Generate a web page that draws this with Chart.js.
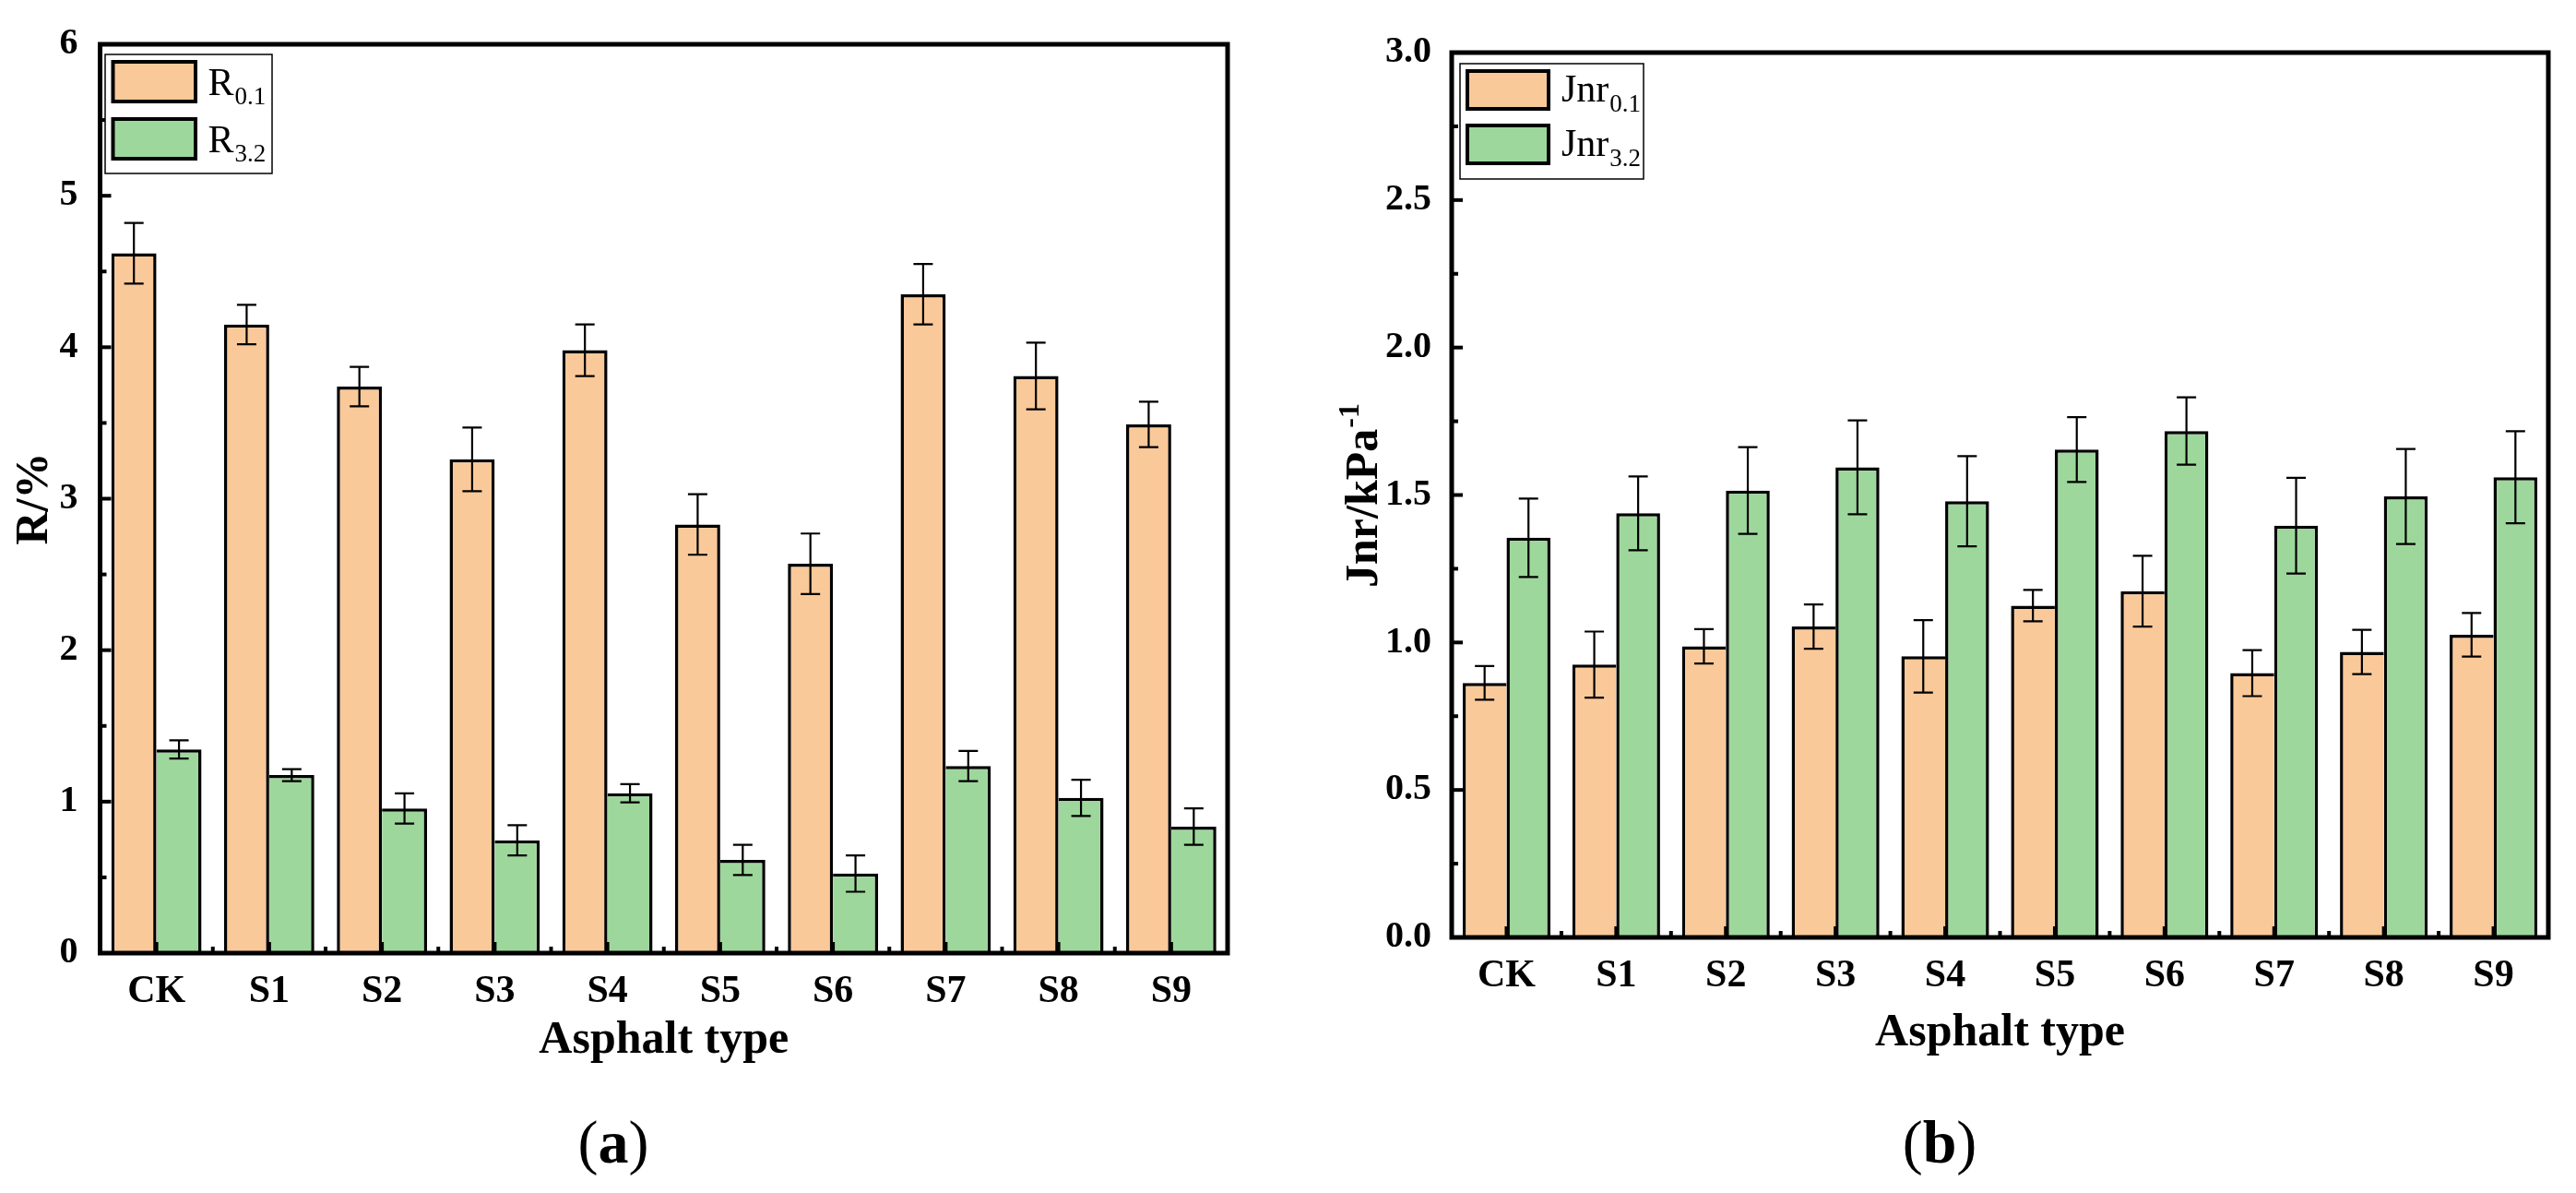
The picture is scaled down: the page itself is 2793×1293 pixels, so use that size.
<!DOCTYPE html>
<html><head><meta charset="utf-8">
<script src="https://cdn.jsdelivr.net/npm/chart.js@4.4.1/dist/chart.umd.min.js"></script>
<style>
html,body{margin:0;padding:0;background:#fff;width:2793px;height:1293px;overflow:hidden;}
canvas{position:absolute;top:0;}
#ca{left:0;} #cb{left:1400px;}
</style></head><body>
<canvas id="ca" width="1400" height="1293" style="width:1400px;height:1293px"></canvas>
<canvas id="cb" width="1393" height="1293" style="width:1393px;height:1293px"></canvas>
<script>
// ---------- data ----------
const categories = ['CK','S1','S2','S3','S4','S5','S6','S7','S8','S9'];
const R01    = [4.62, 4.15, 3.74, 3.26, 3.98, 2.83, 2.57, 4.35, 3.81, 3.49];
const R01Err = [0.20, 0.13, 0.13, 0.21, 0.17, 0.20, 0.20, 0.20, 0.22, 0.15];
const R32    = [1.345, 1.175, 0.955, 0.745, 1.055, 0.615, 0.525, 1.235, 1.025, 0.835];
const R32Err = [0.06, 0.04, 0.10, 0.10, 0.06, 0.10, 0.12, 0.10, 0.12, 0.12];
const J01    = [0.863, 0.925, 0.987, 1.054, 0.953, 1.125, 1.174, 0.896, 0.968, 1.026];
const J01Err = [0.057, 0.112, 0.058, 0.075, 0.123, 0.053, 0.120, 0.078, 0.075, 0.074];
const J32    = [1.355, 1.438, 1.515, 1.594, 1.479, 1.654, 1.717, 1.396, 1.495, 1.560];
const J32Err = [0.133, 0.125, 0.147, 0.159, 0.153, 0.110, 0.114, 0.162, 0.161, 0.156];
const seriesBaseA = 'R';
const seriesBaseB = 'Jnr';
const seriesSubs = ['0.1', '3.2'];
const xTitle = 'Asphalt type';
const yTitleA = 'R/%';
const yTitleBMain = 'Jnr/kPa';
const yTitleBSup = '-1';
const panelLabels = ['a', 'b'];

const ORANGE = '#FAC99A', GREEN = '#9ED79C';
const FONT = '"Liberation Serif", "Times New Roman", serif';

// ---------- decoration plugin ----------
const deco = {
  id: 'deco',
  afterDatasetsDraw(chart, args, o) {
    const ctx = chart.ctx, ca = chart.chartArea, xs = chart.scales.x, ys = chart.scales.y;
    ctx.save();
    ctx.strokeStyle = '#000'; ctx.lineCap = 'butt';
    // error bars
    ctx.lineWidth = 2.2;
    chart.data.datasets.forEach((ds, di) => {
      const meta = chart.getDatasetMeta(di);
      meta.data.forEach((el, i) => {
        const v = ds.data[i], e = ds.errors[i];
        const y1 = ys.getPixelForValue(v + e), y2 = ys.getPixelForValue(v - e), x = el.x, c = o.cap;
        ctx.beginPath();
        ctx.moveTo(x, y1); ctx.lineTo(x, y2);
        ctx.moveTo(x - c, y1); ctx.lineTo(x + c, y1);
        ctx.moveTo(x - c, y2); ctx.lineTo(x + c, y2);
        ctx.stroke();
      });
    });
    // y ticks (inward)
    ctx.lineWidth = 4;
    const n = Math.round((ys.max - ys.min) / o.yMinor);
    for (let k = 0; k <= n; k++) {
      const p = ys.getPixelForValue(ys.min + k * o.yMinor);
      const len = (k % 2 === 0) ? 12 : 7;
      ctx.beginPath(); ctx.moveTo(ca.left, p); ctx.lineTo(ca.left + len, p); ctx.stroke();
    }
    // x ticks (inward)
    const nc = chart.data.labels.length;
    for (let i = 0; i < nc; i++) {
      const p = xs.getPixelForValue(i);
      ctx.beginPath(); ctx.moveTo(p, ca.bottom); ctx.lineTo(p, ca.bottom - 12); ctx.stroke();
      if (i > 0) {
        const b = (xs.getPixelForValue(i - 1) + p) / 2;
        ctx.beginPath(); ctx.moveTo(b, ca.bottom); ctx.lineTo(b, ca.bottom - 7); ctx.stroke();
      }
    }
    // frame
    ctx.lineWidth = 5;
    ctx.strokeRect(ca.left, ca.top, ca.right - ca.left, ca.bottom - ca.top);
    // legend
    const L = o.legend;
    ctx.fillStyle = '#fff'; ctx.fillRect(L.box[0], L.box[1], L.box[2], L.box[3]);
    ctx.lineWidth = 1.5; ctx.strokeRect(L.box[0], L.box[1], L.box[2], L.box[3]);
    chart.data.datasets.forEach((ds, i) => {
      const y = L.sw.y + i * L.sw.dy;
      ctx.fillStyle = ds.backgroundColor;
      ctx.fillRect(L.sw.x + 2, y + 2, L.sw.w - 4, L.sw.h - 4);
      ctx.lineWidth = 4; ctx.strokeStyle = '#000';
      ctx.strokeRect(L.sw.x + 2, y + 2, L.sw.w - 4, L.sw.h - 4);
      ctx.fillStyle = '#000'; ctx.textAlign = 'left'; ctx.textBaseline = 'alphabetic';
      ctx.font = `${L.size}px ${FONT}`;
      const by = L.base + i * L.sw.dy;
      ctx.fillText(ds.legendBase, L.tx, by);
      const w = ctx.measureText(ds.legendBase).width;
      ctx.font = `${L.sub}px ${FONT}`;
      ctx.fillText(ds.legendSub, L.tx + w + 1, by + L.subDy);
    });
    // rich y title (superscript)
    if (o.yRich) {
      const T = o.yRich;
      ctx.save();
      ctx.translate(T.x, T.y); ctx.rotate(-Math.PI / 2);
      ctx.fillStyle = '#000'; ctx.textAlign = 'left'; ctx.textBaseline = 'alphabetic';
      ctx.font = `bold ${T.size}px ${FONT}`;
      const wm = ctx.measureText(T.main).width;
      ctx.font = `bold ${T.supSize}px ${FONT}`;
      const ws = ctx.measureText(T.sup).width;
      const x0 = -(wm + ws) / 2;
      ctx.font = `bold ${T.size}px ${FONT}`;
      ctx.fillText(T.main, x0, 0);
      ctx.font = `bold ${T.supSize}px ${FONT}`;
      ctx.fillText(T.sup, x0 + wm + 1, -T.supRaise);
      ctx.restore();
    }
    // panel label
    const P = o.panel;
    ctx.fillStyle = '#000'; ctx.textAlign = 'left'; ctx.textBaseline = 'alphabetic';
    const reg = `${P.size}px ${FONT}`, bold = `bold ${P.size}px ${FONT}`;
    ctx.font = reg; const wp = ctx.measureText('(').width, wq = ctx.measureText(')').width;
    ctx.font = bold; const wt = ctx.measureText(P.text).width;
    let px = P.cx - (wp + wt + wq) / 2;
    ctx.font = reg; ctx.fillText('(', px, P.base); px += wp;
    ctx.font = bold; ctx.fillText(P.text, px, P.base); px += wt;
    ctx.font = reg; ctx.fillText(')', px, P.base);
    ctx.restore();
  }
};

function makeChart(id, cfg) {
  return new Chart(document.getElementById(id), {
    type: 'bar',
    data: {
      labels: categories,
      datasets: [
        { label: cfg.base + seriesSubs[0], legendBase: cfg.base, legendSub: seriesSubs[0],
          data: cfg.d1, errors: cfg.e1, backgroundColor: ORANGE, borderColor: '#000',
          borderWidth: cfg.bw1, borderSkipped: 'start',
          categoryPercentage: 0.8, barPercentage: 1.0 },
        { label: cfg.base + seriesSubs[1], legendBase: cfg.base, legendSub: seriesSubs[1],
          data: cfg.d2, errors: cfg.e2, backgroundColor: GREEN, borderColor: '#000',
          borderWidth: cfg.bw2, borderSkipped: 'start',
          categoryPercentage: 0.8, barPercentage: 1.0 }
      ]
    },
    options: {
      responsive: false, animation: false, devicePixelRatio: 1,
      layout: { padding: cfg.pad },
      plugins: { legend: { display: false }, tooltip: { enabled: false }, deco: cfg.deco },
      scales: {
        x: {
          grid: { display: false }, border: { display: false },
          ticks: { color: '#000', padding: 9, autoSkip: false, maxRotation: 0,
                   font: { family: FONT, size: 42, weight: 'bold' } },
          title: { display: true, text: xTitle, color: '#000', padding: { top: 0, bottom: 0 },
                   font: { family: FONT, size: 50, weight: 'bold', lineHeight: 1.2 } },
          afterFit: s => { s.height = cfg.xH; }
        },
        y: {
          min: 0, max: cfg.ymax,
          grid: { display: false }, border: { display: false },
          ticks: { color: '#000', stepSize: cfg.step, padding: cfg.yPad,
                   font: { family: FONT, size: 40, weight: 'bold' },
                   callback: v => cfg.fmt(v) },
          title: cfg.yTitle,
          afterFit: s => { s.width = cfg.yW; }
        }
      }
    },
    plugins: [deco]
  });
}

makeChart('ca', {
  base: seriesBaseA, d1: R01, e1: R01Err, d2: R32, e2: R32Err,
  bw1: { left: 3.5, top: 3.5, right: 3.5, bottom: 0 },
  bw2: { left: 0, top: 3.5, right: 3.5, bottom: 0 },
  pad: { left: 0, top: 48, right: 1400 - 1331, bottom: 135 },
  xH: 125, yW: 108.5, ymax: 6, step: 1, yPad: 16,
  fmt: v => String(v),
  yTitle: { display: true, text: yTitleA, color: '#000', padding: { top: 8, bottom: 0 },
            font: { family: FONT, size: 50, weight: 'bold', lineHeight: 1.2 } },
  deco: {
    cap: 10.5, yMinor: 0.5,
    legend: { box: [114, 59, 181, 129], sw: { x: 120.5, y: 65, w: 93.5, h: 47, dy: 62 },
              tx: 225.5, base: 103, size: 42, sub: 27, subDy: 10 },
    panel: { text: panelLabels[0], cx: 665, base: 1260, size: 66 }
  }
});

makeChart('cb', {
  base: seriesBaseB, d1: J01, e1: J01Err, d2: J32, e2: J32Err,
  bw1: { left: 3.5, top: 3.5, right: 0, bottom: 0 },
  bw2: { left: 3.5, top: 3.5, right: 3.5, bottom: 0 },
  pad: { left: 0, top: 57, right: 1393 - 1363, bottom: 143 },
  xH: 134, yW: 174, ymax: 3, step: 0.5, yPad: 14,
  fmt: v => v.toFixed(1),
  yTitle: { display: false },
  deco: {
    cap: 10.5, yMinor: 0.25,
    legend: { box: [183, 69, 199, 125], sw: { x: 189, y: 75, w: 92, h: 45, dy: 59 },
              tx: 293, base: 110, size: 42, sub: 27, subDy: 11 },
    yRich: { x: 93, y: 537.5, main: yTitleBMain, sup: yTitleBSup, size: 50, supSize: 32, supRaise: 20 },
    panel: { text: panelLabels[1], cx: 703, base: 1260, size: 66 }
  }
});
</script>
</body></html>
